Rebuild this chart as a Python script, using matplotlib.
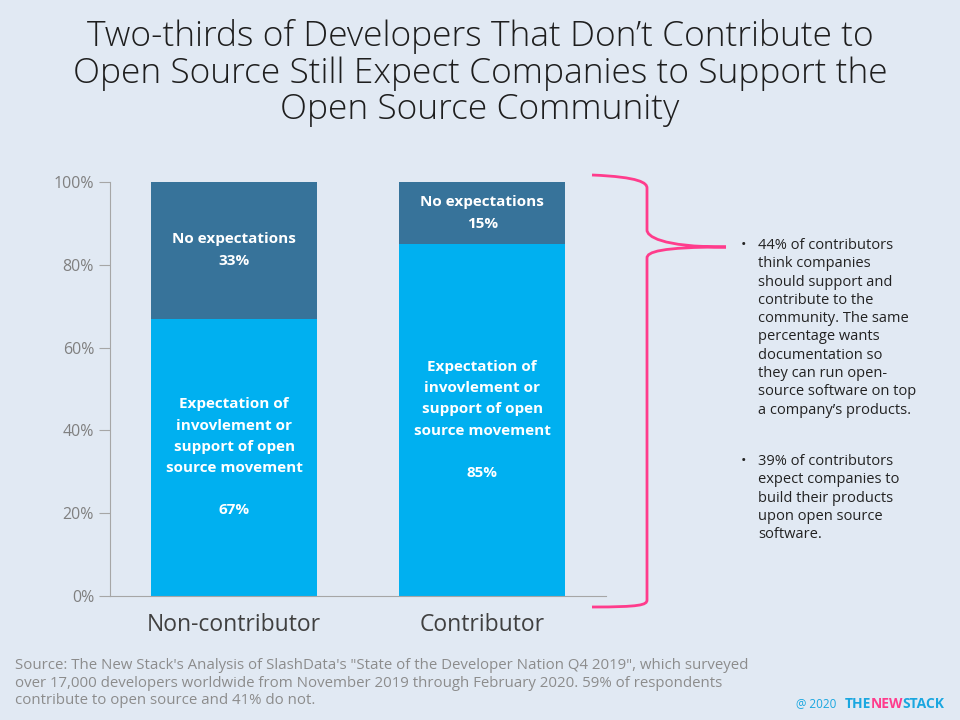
import matplotlib.pyplot as plt
from matplotlib.path import Path
from matplotlib.patches import PathPatch

plt.rcParams['font.family'] = ['Open Sans', 'DejaVu Sans']

groups = ['Non-contributor', 'Contributor']
expect = [67, 85]
no_expect = [33, 15]
expect_labels = ['Expectation of\ninvovlement or\nsupport of open\nsource movement\n\n67%',
                 'Expectation of\ninvovlement or\nsupport of open\nsource movement\n\n85%']
no_expect_labels = ['No expectations\n33%', 'No expectations\n15%']
yticks = [0, 20, 40, 60, 80, 100]

bg = '#E1E9F3'
light = '#00B0F0'
dark = '#37739A'
pink = '#FF3C8C'

fig = plt.figure(figsize=(9.6, 7.2), dpi=100, facecolor=bg)
ax = fig.add_axes([0.1146, 0.1722, 0.517, 0.575])
ax.set_facecolor(bg)

x = list(range(len(groups)))
ax.bar(x, expect, width=0.67, color=light)
ax.bar(x, no_expect, bottom=expect, width=0.67, color=dark)

for i in x:
    ax.text(i, expect[i] / 2, expect_labels[i], ha='center', va='center',
            color='white', fontsize=11, fontweight='bold', linespacing=1.65)
    ax.text(i, expect[i] + no_expect[i] / 2, no_expect_labels[i], ha='center',
            va='center', color='white', fontsize=11, fontweight='bold', linespacing=1.75)

ax.set_xlim(-0.5, 1.5)
ax.set_ylim(0, 100)
ax.set_yticks(yticks)
ax.set_yticklabels([f'{t}%' for t in yticks], color='#808080', fontsize=11.5)
ax.set_xticks(x)
ax.set_xticklabels(groups, fontsize=16.5, color='#404040')
for s in ['top', 'right']:
    ax.spines[s].set_visible(False)
ax.spines['left'].set_color('#A6A6A6')
ax.spines['bottom'].set_color('#A6A6A6')
ax.tick_params(axis='y', color='#A6A6A6', length=8)
ax.tick_params(axis='x', length=0, pad=12)

fig.text(0.5, 0.974, 'Two-thirds of Developers That Don\u2019t Contribute to\n'
         'Open Source Still Expect Companies to Support the\n'
         'Open Source Community', ha='center', va='top', fontsize=25.5,
         color='#1E1E1E', linespacing=1.09, fontweight='light')

# curly bracket in pixel coords
W, H = 960, 720
def p(px, py):
    return (px / W, 1 - py / H)
verts = [p(592, 175), p(640, 177), p(647, 183), p(647, 188),
         p(647, 230),
         p(647, 236), p(660, 247), p(726, 247),
         p(660, 247), p(647, 252), p(647, 258),
         p(647, 600),
         p(647, 605), p(640, 607), p(592, 607)]
codes = [Path.MOVETO, Path.CURVE4, Path.CURVE4, Path.CURVE4,
         Path.LINETO,
         Path.CURVE4, Path.CURVE4, Path.CURVE4,
         Path.CURVE4, Path.CURVE4, Path.CURVE4,
         Path.LINETO,
         Path.CURVE4, Path.CURVE4, Path.CURVE4]
fig.patches.append(PathPatch(Path(verts, codes), transform=fig.transFigure,
                             fill=False, edgecolor=pink, lw=2))

bullets = ['44% of contributors\nthink companies\nshould support and\ncontribute to the\n'
           'community. The same\npercentage wants\ndocumentation so\nthey can run open-\n'
           'source software on top\na company\u2019s products.',
           '39% of contributors\nexpect companies to\nbuild their products\n'
           'upon open source\nsoftware.']
by = [238, 454]
for b, yy in zip(bullets, by):
    fig.text(741 / W, 1 - yy / H, '\u2022', fontsize=10.5, va='top', color='#222222')
    fig.text(758 / W, 1 - yy / H, b, fontsize=10.5, va='top', color='#222222',
             linespacing=1.3)

fig.text(15 / W, 1 - 658 / H,
         'Source: The New Stack\'s Analysis of SlashData\'s "State of the Developer Nation Q4 2019", which surveyed\n'
         'over 17,000 developers worldwide from November 2019 through February 2020. 59% of respondents\n'
         'contribute to open source and 41% do not.',
         fontsize=10.8, color='#8C8C8C', va='top', linespacing=1.25)
fig.text(796 / W, 1 - 704 / H, '@ 2020', fontsize=8.5, color='#1AA7E0', va='center')
fig.text(845 / W, 1 - 704 / H, 'THE', fontsize=10, color='#1AA7E0', va='center', fontweight='bold')
fig.text(871 / W, 1 - 704 / H, 'NEW', fontsize=10, color=pink, va='center', fontweight='bold')
fig.text(902 / W, 1 - 704 / H, 'STACK', fontsize=10, color='#1AA7E0', va='center', fontweight='bold')

fig.savefig('out.png', dpi=100, facecolor=bg)
